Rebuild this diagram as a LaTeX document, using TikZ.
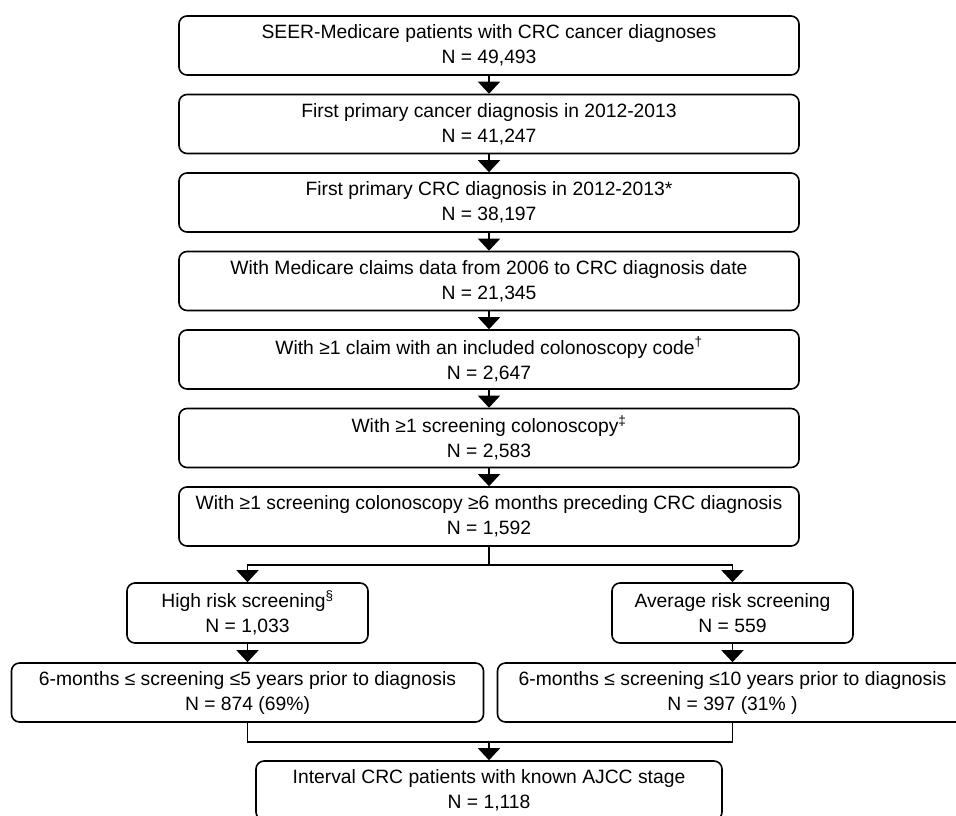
\documentclass[tikz,border=0pt]{standalone}
\usepackage{fontspec}
\setmainfont{Liberation Sans}
\usetikzlibrary{arrows.meta}
\begin{document}
\begin{tikzpicture}[x=1pt,y=-1pt,
  box/.style={draw=black, line width=1.6pt, rounded corners=8pt, inner sep=0pt,
    align=center, minimum height=59pt, font=\fontsize{19.3}{25}\selectfont},
  mainbox/.style={box, minimum width=620pt},
  sidebox/.style={box, minimum width=241pt, minimum height=60pt},
  widebox/.style={box, minimum width=470pt},
  conn/.style={line width=1.6pt, draw=black},
  arr/.style={conn, -{Triangle[width=22pt,length=12pt]}}]
\useasboundingbox (0,0) rectangle (956,815);
\node[mainbox] (b1) at (489,45.5) {SEER-Medicare patients with CRC cancer diagnoses\\N = 49,493};
\node[mainbox] (b2) at (489,124) {First primary cancer diagnosis in 2012-2013\\N = 41,247};
\node[mainbox] (b3) at (489,202.5) {First primary CRC diagnosis in 2012-2013*\\N = 38,197};
\node[mainbox] (b4) at (489,281) {With Medicare claims data from 2006 to CRC diagnosis date\\N = 21,345};
\node[mainbox] (b5) at (489,359.5) {With ≥1 claim with an included colonoscopy code\textsuperscript{†}\\N = 2,647};
\node[mainbox] (b6) at (489,438) {With ≥1 screening colonoscopy\textsuperscript{‡}\\N = 2,583};
\node[mainbox] (b7) at (489,516.5) {With ≥1 screening colonoscopy ≥6 months preceding CRC diagnosis\\N = 1,592};
\node[sidebox] (hr) at (247.5,613) {High risk screening\textsuperscript{§}\\N = 1,033};
\node[sidebox] (ar) at (732.5,613) {Average risk screening\\N = 559};
\node[widebox, minimum width=472pt] (ll) at (247.5,692.5) {6-months ≤ screening ≤5 years prior to diagnosis\\N = 874 (69\%)};
\node[widebox] (rl) at (732.5,692.5) {6-months ≤ screening ≤10 years prior to diagnosis\\N = 397 (31\% )};
\node[widebox, minimum width=466pt] (bt) at (489,790.5) {Interval CRC patients with known AJCC stage\\N = 1,118};
\draw[arr] (b1) -- (b2);
\draw[arr] (b2) -- (b3);
\draw[arr] (b3) -- (b4);
\draw[arr] (b4) -- (b5);
\draw[arr] (b5) -- (b6);
\draw[arr] (b6) -- (b7);
\coordinate (sp) at (489,565);
\coordinate (mg) at (489,742);
\draw[conn] (b7.south) -- (sp);
\draw[arr] (sp) -| (hr.north);
\draw[arr] (sp) -| (ar.north);
\draw[arr] (hr) -- (ll);
\draw[arr] (ar) -- (rl);
\draw[conn] (ll.south) |- (mg);
\draw[conn] (rl.south) |- (mg);
\draw[arr] (mg) -- (bt.north);
\end{tikzpicture}
\end{document}
